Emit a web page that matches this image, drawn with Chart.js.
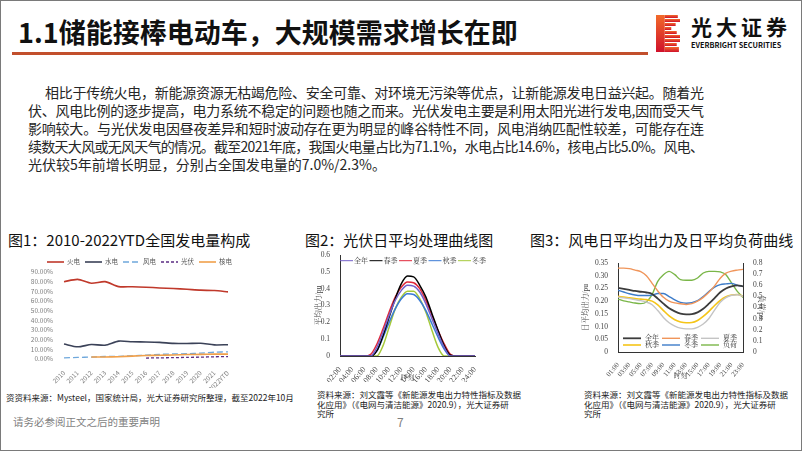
<!DOCTYPE html>
<html>
<head>
<meta charset="utf-8">
<script src="https://cdn.jsdelivr.net/npm/chart.js@4.4.0/dist/chart.umd.min.js"></script>
<style>
body { margin: 0; background: #fff; }
#slide { position: relative; width: 802px; height: 451px; overflow: hidden; background: #fff;
  font-family: "Noto Sans CJK SC", "Noto Sans", sans-serif; color: #222; }
#frame { position: absolute; left: 0; top: 0; width: 802px; height: 451px; box-sizing: border-box;
  border: 1.5px solid #7a7a7a; pointer-events: none; }
.abs { position: absolute; white-space: nowrap; }
.body { font-size: 14px; line-height: 18px; color: #262626; }
.ctitle { font-size: 15px; line-height: 16px; color: #111; }
.src { font-size: 8.5px; line-height: 9.5px; color: #222; }
canvas { position: absolute; }
</style>
</head>
<body>
<div id="slide">
  <div class="abs" style="left:18px;top:18px;font-size:27px;line-height:27px;font-weight:bold;color:#111;">1.1储能接棒电动车，大规模需求增长在即</div>
  <div class="abs" style="left:12px;top:52px;width:636px;height:3px;background:#c24f2c;"></div>

  <svg class="abs" style="left:656px;top:15px" width="24" height="37" viewBox="0 0 22 37" preserveAspectRatio="none">
    <defs>
      <linearGradient id="lg" x1="0" y1="0" x2="0" y2="1">
        <stop offset="0" stop-color="#f26a2a"/>
        <stop offset="1" stop-color="#d0112b"/>
      </linearGradient>
    </defs>
    <g fill="url(#lg)">
      <rect x="0" y="0" width="8" height="37"/>
      <rect x="8" y="0" width="12" height="3"/>
      <rect x="8" y="4" width="14" height="3"/>
      <rect x="8" y="8" width="10" height="3"/>
      <rect x="8" y="12" width="6" height="3"/>
      <rect x="8" y="16" width="11" height="3"/>
      <rect x="8" y="20" width="14" height="3"/>
      <rect x="8" y="24" width="14" height="3"/>
      <rect x="8" y="28" width="11" height="3"/>
      <rect x="8" y="32" width="13" height="5"/>
    </g>
  </svg>
  <div class="abs" style="left:691px;top:16px;font-size:21px;line-height:21px;font-weight:bold;letter-spacing:4px;color:#111;">光大证券</div>
  <div class="abs" style="left:691px;top:41px;font-size:7.3px;line-height:8px;font-weight:bold;color:#111;">EVERBRIGHT SECURITIES</div>

  <div class="abs body" data-w="659" style="left:45px;top:83px;">相比于传统火电，新能源资源无枯竭危险、安全可靠、对环境无污染等优点，让新能源发电日益兴起。随着光</div>
  <div class="abs body" data-w="676" style="left:28px;top:101px;">伏、风电比例的逐步提高，电力系统不稳定的问题也随之而来。光伏发电主要是利用太阳光进行发电,因而受天气</div>
  <div class="abs body" data-w="676" style="left:28px;top:119px;">影响较大。与光伏发电因昼夜差异和短时波动存在更为明显的峰谷特性不同，风电消纳匹配性较差，可能存在连</div>
  <div class="abs body" data-w="676" style="left:28px;top:137px;">续数天大风或无风天气的情况。截至2021年底，我国火电量占比为71.1%，水电占比14.6%，核电占比5.0%。风电、</div>
  <div class="abs body" style="left:28px;top:155px;">光伏较5年前增长明显，分别占全国发电量的7.0%/2.3%。</div>

  <div class="abs ctitle" style="left:8px;top:232px;">图1：2010-2022YTD全国发电量构成</div>
  <div class="abs ctitle" style="left:305px;top:232px;">图2：光伏日平均处理曲线图</div>
  <div class="abs ctitle" style="left:530px;top:232px;">图3：风电日平均出力及日平均负荷曲线</div>

  <canvas id="c1" width="232" height="132" style="left:20px;top:256px;"></canvas>
  <canvas id="c2" width="180" height="134" style="left:312px;top:248px;"></canvas>
  <canvas id="c3" width="192" height="124" style="left:578px;top:256px;"></canvas>

  <div class="abs src" style="left:6px;top:393px;">资资料来源：Mysteel，国家统计局，光大证券研究所整理，截至2022年10月</div>
  <div class="abs src" style="left:317px;top:390px;">资料来源：刘文霞等《新能源发电出力特性指标及数据<br>化应用》（《电网与清洁能源》2020.9），光大证券研<br>究所</div>
  <div class="abs src" style="left:584px;top:390px;">资料来源：刘文霞等《新能源发电出力特性指标及数据<br>化应用》（《电网与清洁能源》2020.9），光大证券研<br>究所</div>

  <div class="abs" style="left:13px;top:415px;font-size:10.5px;line-height:14px;color:#7f7f7f;">请务必参阅正文之后的重要声明</div>
  <div class="abs" style="left:397px;top:415px;font-size:12px;line-height:14px;color:#7f7f7f;">7</div>
  <div id="frame"></div>
</div>

<script>
// 图1 全国发电量构成 (%)
const years = ['2010', '2011', '2012', '2013', '2014', '2015', '2016', '2017', '2018', '2019', '2020', '2021', '2022YTD'];
const thermal = [80.0, 82.4, 78.4, 80.0, 74.9, 74.8, 74.3, 73.5, 72.9, 72.1, 71.2, 70.8, 69.4];
const hydro = [15.5, 12.6, 15.0, 14.3, 18.5, 17.8, 17.6, 17.2, 16.2, 16.0, 16.3, 14.6, 14.8];
const wind = [1.2, 1.6, 2.0, 2.6, 2.8, 3.3, 4.0, 4.8, 5.2, 5.5, 6.1, 7.0, 7.4];
const solar = [null, null, null, null, null, null, 1.0, 1.2, 1.4, 1.7, 1.9, 2.3, 2.5];
const nuclear = [null, null, 2.0, 2.1, 2.4, 3.0, 3.6, 3.9, 4.2, 4.6, 4.8, 5.0, 5.0];
const pctTicks = [0, 10, 20, 30, 40, 50, 60, 70, 80, 90];

// 图2 光伏日平均出力 (pu), 02:00-24:00
const pvHours = [2, 3, 4, 5, 6, 7, 8, 9, 10, 11, 12, 13, 14, 15, 16, 17, 18, 19, 20, 21, 22, 23, 24];
const pvYear = [0, 0, 0, 0, 0, 0, 0.05, 0.14, 0.24, 0.33, 0.39, 0.42, 0.415, 0.38, 0.31, 0.22, 0.13, 0.05, 0, 0, 0, 0, 0];
const pvSpring = [0, 0, 0, 0, 0, 0, 0.03, 0.12, 0.23, 0.34, 0.43, 0.475, 0.47, 0.42, 0.35, 0.25, 0.15, 0.06, 0.005, 0, 0, 0, 0];
const pvSummer = [0, 0, 0, 0, 0, 0.01, 0.07, 0.16, 0.26, 0.35, 0.41, 0.44, 0.435, 0.40, 0.33, 0.24, 0.15, 0.07, 0.01, 0, 0, 0, 0];
const pvAutumn = [0, 0, 0, 0, 0, 0, 0.03, 0.11, 0.20, 0.28, 0.34, 0.37, 0.365, 0.33, 0.27, 0.19, 0.11, 0.04, 0, 0, 0, 0, 0];
const pvWinter = [0, 0, 0, 0, 0, 0, 0, 0.06, 0.17, 0.28, 0.35, 0.385, 0.385, 0.34, 0.26, 0.15, 0.05, 0, 0, 0, 0, 0, 0];

// 图3 风电日平均出力 (pu, 左轴) 及负荷 (pu, 右轴), 01:00-23:00
const windHours = [1, 2, 3, 4, 5, 6, 7, 8, 9, 10, 11, 12, 13, 14, 15, 16, 17, 18, 19, 20, 21, 22, 23];
const wYear = [0.252, 0.248, 0.244, 0.240, 0.237, 0.234, 0.228, 0.210, 0.190, 0.172, 0.160, 0.151, 0.148, 0.149, 0.156, 0.170, 0.190, 0.212, 0.235, 0.250, 0.258, 0.262, 0.258];
const wSpring = [0.330, 0.330, 0.328, 0.322, 0.316, 0.300, 0.270, 0.240, 0.215, 0.200, 0.193, 0.190, 0.187, 0.190, 0.200, 0.215, 0.235, 0.260, 0.290, 0.310, 0.318, 0.322, 0.325];
const wSummer = [0.216, 0.213, 0.210, 0.206, 0.202, 0.196, 0.186, 0.163, 0.136, 0.115, 0.102, 0.094, 0.091, 0.091, 0.097, 0.110, 0.132, 0.165, 0.196, 0.214, 0.223, 0.225, 0.219];
const wAutumn = [0.219, 0.216, 0.213, 0.210, 0.208, 0.206, 0.200, 0.185, 0.163, 0.142, 0.127, 0.118, 0.115, 0.116, 0.124, 0.140, 0.160, 0.183, 0.203, 0.217, 0.224, 0.226, 0.220];
const wWinter = [0.243, 0.236, 0.229, 0.224, 0.222, 0.222, 0.224, 0.230, 0.230, 0.218, 0.205, 0.195, 0.192, 0.194, 0.202, 0.218, 0.238, 0.255, 0.265, 0.268, 0.270, 0.262, 0.258];
const load = [0.476, 0.460, 0.450, 0.440, 0.435, 0.450, 0.515, 0.635, 0.695, 0.725, 0.695, 0.650, 0.645, 0.645, 0.665, 0.710, 0.725, 0.725, 0.720, 0.695, 0.620, 0.545, 0.490];

const sansFont = '"Noto Sans CJK SC", "Noto Sans", sans-serif';
const serifFont = '"Liberation Serif", "Noto Serif CJK SC", "Noto Sans CJK SC", serif';

// stretch each justified body line to its width
function fitLines() {
  document.querySelectorAll('.body[data-w]').forEach(el => {
    el.style.letterSpacing = '0px';
    const natural = el.getBoundingClientRect().width;
    const n = el.textContent.length - 1;
    el.style.letterSpacing = ((+el.dataset.w - natural) / n) + 'px';
  });
}
fitLines();
if (document.fonts) document.fonts.ready.then(fitLines);

// small legend drawn inside the canvas (line sample + label)
function makeLegend(o) {
  return {
    id: 'inLegend',
    afterDraw(chart) {
      const ctx = chart.ctx;
      ctx.save();
      ctx.font = o.font;
      ctx.textBaseline = 'middle';
      ctx.textAlign = 'left';
      chart.data.datasets.forEach((ds, i) => {
        const x = o.x + (i % o.cols) * o.colW;
        const y = o.y + Math.floor(i / o.cols) * (o.rowH || 0);
        ctx.strokeStyle = ds.borderColor;
        ctx.lineWidth = ds.borderWidth;
        ctx.setLineDash(ds.borderDash || []);
        ctx.beginPath();
        ctx.moveTo(x, y);
        ctx.lineTo(x + o.lineW, y);
        ctx.stroke();
        ctx.setLineDash([]);
        ctx.fillStyle = o.color;
        ctx.fillText(ds.label, x + o.lineW + o.gap, y);
      });
      ctx.restore();
    }
  };
}

const hhmm = v => (v < 10 ? '0' + v : '' + v) + ':00';
const toXY = (xs, ys) => xs.map((x, i) => ({ x: x, y: ys[i] }));

// ---- chart 1
new Chart(document.getElementById('c1'), {
  type: 'line',
  data: {
    labels: years,
    datasets: [
      { label: '火电', data: thermal, borderColor: '#c0392b', borderWidth: 1.6, order: 2 },
      { label: '水电', data: hydro, borderColor: '#3b4258', borderWidth: 1.6, order: 2 },
      { label: '风电', data: wind, borderColor: '#6fa8dc', borderWidth: 1.3, borderDash: [6, 3], order: 2 },
      { label: '光伏', data: solar, borderColor: '#5b2c83', borderWidth: 1.3, borderDash: [3, 2], order: 0 },
      { label: '核电', data: nuclear, borderColor: '#f0a04b', borderWidth: 1.6, order: 1 }
    ]
  },
  options: {
    responsive: false,
    animation: false,
    layout: { padding: { top: 16, right: 24, left: 0, bottom: 0 } },
    elements: { point: { radius: 0 }, line: { tension: 0.25 } },
    plugins: { legend: { display: false }, tooltip: { enabled: false } },
    scales: {
      x: {
        offset: false,
        grid: { display: false },
        border: { display: false },
        ticks: { color: '#7f7f7f', font: { family: sansFont, size: 6.5 }, minRotation: 45, maxRotation: 45, padding: 2, autoSkip: false },
        afterFit: s => { s.height = 29; }
      },
      y: {
        min: 0,
        max: 90,
        grid: { display: false },
        border: { display: false },
        afterBuildTicks: s => { s.ticks = pctTicks.map(v => ({ value: v })); },
        ticks: { color: '#7f7f7f', font: { family: sansFont, size: 6.5 }, padding: 3, autoSkip: false, callback: v => v.toFixed(2) + '%' },
        afterFit: s => { s.width = 44; }
      }
    }
  },
  plugins: [makeLegend({ x: 27, y: 6, cols: 5, colW: 38, lineW: 17, gap: 3, font: '6.5px ' + sansFont, color: '#595959' })]
});

// ---- chart 2
const pvColors = ['#7461c9', '#000000', '#e0283a', '#3a7bd5', '#a5c93a'];
new Chart(document.getElementById('c2'), {
  type: 'line',
  data: {
    datasets: [
      { label: '全年', data: toXY(pvHours, pvYear), borderColor: pvColors[0] },
      { label: '春季', data: toXY(pvHours, pvSpring), borderColor: pvColors[1] },
      { label: '夏季', data: toXY(pvHours, pvSummer), borderColor: pvColors[2] },
      { label: '秋季', data: toXY(pvHours, pvAutumn), borderColor: pvColors[3] },
      { label: '冬季', data: toXY(pvHours, pvWinter), borderColor: pvColors[4] }
    ]
  },
  options: {
    responsive: false,
    animation: false,
    layout: { padding: { top: 7, right: 17, left: 3, bottom: 0 } },
    elements: { point: { radius: 0 }, line: { borderWidth: 1.5, cubicInterpolationMode: 'monotone' } },
    plugins: { legend: { display: false }, tooltip: { enabled: false } },
    scales: {
      x: {
        type: 'linear',
        min: 2,
        max: 24,
        grid: { display: false },
        border: { display: true, color: '#333', width: 1 },
        ticks: { stepSize: 2, color: '#444', font: { family: serifFont, size: 8 }, minRotation: 50, maxRotation: 50, padding: 1, autoSkip: false, callback: hhmm },
        title: { display: true, text: '时刻', color: '#555', font: { family: serifFont, size: 7 }, padding: 0 },
        afterFit: s => { s.height = 26; }
      },
      y: {
        min: 0,
        max: 0.6,
        grid: { display: false },
        border: { display: true, color: '#333', width: 1 },
        ticks: { stepSize: 0.1, color: '#444', font: { family: serifFont, size: 7.5 }, padding: 2, autoSkip: false, callback: v => v === 0 ? '0' : v.toFixed(1) },
        title: { display: true, text: '平均出力/pu', color: '#444', font: { family: serifFont, size: 7.5 }, padding: 0 },
        afterFit: s => { s.width = 25; }
      }
    }
  },
  plugins: [makeLegend({ x: 28, y: 12.7, cols: 5, colW: 29.5, lineW: 13, gap: 1, font: '7px ' + serifFont, color: '#333' })]
});

// ---- chart 3
new Chart(document.getElementById('c3'), {
  type: 'line',
  data: {
    datasets: [
      { label: '全年', data: toXY(windHours, wYear), borderColor: '#3c3c3c', borderWidth: 1.8, yAxisID: 'y' },
      { label: '春季', data: toXY(windHours, wSpring), borderColor: '#f0955a', borderWidth: 1.4, yAxisID: 'y' },
      { label: '夏季', data: toXY(windHours, wSummer), borderColor: '#c4c4c4', borderWidth: 1.4, yAxisID: 'y' },
      { label: '秋季', data: toXY(windHours, wAutumn), borderColor: '#f5c518', borderWidth: 1.6, yAxisID: 'y' },
      { label: '冬季', data: toXY(windHours, wWinter), borderColor: '#3d7cc9', borderWidth: 1.4, yAxisID: 'y' },
      { label: '负荷', data: toXY(windHours, load), borderColor: '#7ab648', borderWidth: 1.4, yAxisID: 'y1' }
    ]
  },
  options: {
    responsive: false,
    animation: false,
    layout: { padding: { top: 7, right: 5, left: 4, bottom: 0 } },
    elements: { point: { radius: 0 }, line: { cubicInterpolationMode: 'monotone' } },
    plugins: { legend: { display: false }, tooltip: { enabled: false } },
    scales: {
      x: {
        type: 'linear',
        min: 1,
        max: 23,
        grid: { display: false },
        border: { display: true, color: '#333', width: 1 },
        ticks: { stepSize: 2, color: '#444', font: { family: serifFont, size: 7 }, minRotation: 50, maxRotation: 50, padding: 1, autoSkip: false, callback: hhmm },
        title: { display: true, text: '时刻', color: '#555', font: { family: serifFont, size: 7 }, padding: 0 },
        afterFit: s => { s.height = 28; }
      },
      y: {
        position: 'left',
        min: 0,
        max: 0.35,
        grid: { display: false },
        border: { display: true, color: '#333', width: 1 },
        ticks: { stepSize: 0.05, color: '#444', font: { family: serifFont, size: 7.5 }, padding: 2, autoSkip: false, callback: v => v === 0 ? '0' : v.toFixed(2) },
        title: { display: true, text: '日平均出力/pu', color: '#444', font: { family: serifFont, size: 7.5 }, padding: 0 },
        afterFit: s => { s.width = 36; }
      },
      y1: {
        position: 'right',
        min: 0,
        max: 0.8,
        grid: { display: false },
        border: { display: true, color: '#333', width: 1 },
        ticks: { stepSize: 0.1, color: '#444', font: { family: serifFont, size: 7.5 }, padding: 2, autoSkip: false, callback: v => v === 0 ? '0' : v.toFixed(1) },
        title: { display: true, text: '负荷/pu', color: '#444', font: { family: serifFont, size: 7.5 }, padding: 0 },
        afterFit: s => { s.width = 22; }
      }
    }
  },
  plugins: [makeLegend({ x: 45, y: 82.3, cols: 3, colW: 39, rowH: 6.7, lineW: 18, gap: 4, font: '7px ' + serifFont, color: '#333' })]
});
</script>
</body>
</html>
